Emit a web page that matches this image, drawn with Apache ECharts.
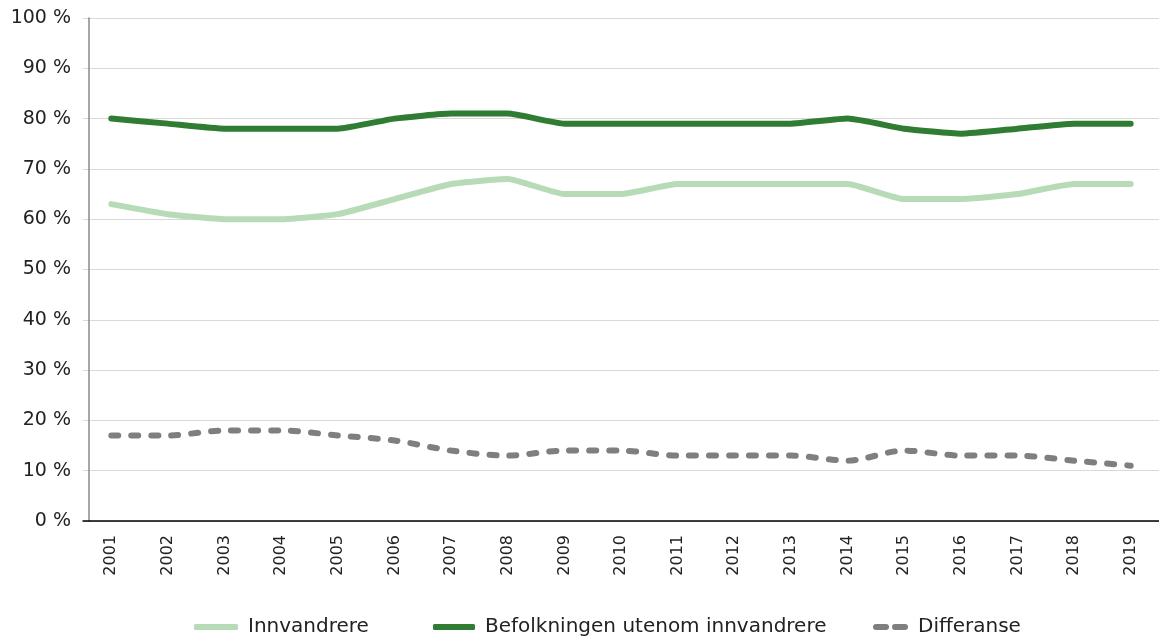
<!DOCTYPE html>
<html>
<head>
<meta charset="utf-8">
<script src="https://cdn.jsdelivr.net/npm/echarts@6/dist/echarts.min.js"></script>
<style>
  html, body { margin: 0; padding: 0; background: #fff; }
  #chart { width: 1159px; height: 638px; }
</style>
</head>
<body>
<div id="chart"></div>
<script>
// data
const years = ['2001', '2002', '2003', '2004', '2005', '2006', '2007', '2008', '2009', '2010',
  '2011', '2012', '2013', '2014', '2015', '2016', '2017', '2018', '2019']
const innvandrere = [63, 61, 60, 60, 61, 64, 67, 68, 65, 65, 67, 67, 67, 67, 64, 64, 65, 67, 67]
const befolkningen = [80, 79, 78, 78, 78, 80, 81, 81, 79, 79, 79, 79, 79, 80, 78, 77, 78, 79, 79]
const differanse = [17, 17, 18, 18, 17, 16, 14, 13, 14, 14, 13, 13, 13, 12, 14, 13, 13, 12, 11]
const seriesNames = ['Innvandrere', 'Befolkningen utenom innvandrere', 'Differanse']

const font = '"DejaVu Sans", Verdana, sans-serif'
const colors = ['#b7dbb7', '#317c33', '#7f7f7f']

// one legend per entry so the gaps match the original
function legendItem(name, left, icon, width) {
  return {
    data: [{ name: name, icon: icon }],
    left: left,
    top: 617,
    padding: 0,
    itemWidth: width,
    itemHeight: 6,
    itemGap: 0,
    textStyle: { fontFamily: font, fontSize: 20, color: '#222', padding: [0, 0, 0, 5] }
  }
}

let myChart = echarts.init(document.getElementById('chart'))
myChart.setOption({
  animation: false,
  grid: {
    left: 83,
    right: 0,
    top: 18,
    bottom: 117
  },
  legend: [
    legendItem(seriesNames[0], 194, 'roundRect', 44),
    legendItem(seriesNames[1], 433, 'roundRect', 42),
    legendItem(seriesNames[2], 873, 'path://M3,0h10a3,3 0 0 1 0,6h-10a3,3 0 0 1 0,-6z M22,0h10a3,3 0 0 1 0,6h-10a3,3 0 0 1 0,-6z', 35)
  ],
  xAxis: {
    type: 'category',
    data: years,
    boundaryGap: true,
    axisLine: { show: true, lineStyle: { color: '#000', width: 1.5 } },
    axisTick: { show: false },
    axisLabel: {
      rotate: 90,
      margin: 14,
      fontFamily: font,
      fontSize: 16,
      color: '#222'
    }
  },
  yAxis: {
    type: 'value',
    min: 0,
    max: 100,
    interval: 10,
    offset: -6,
    axisLine: { show: true, lineStyle: { color: '#888', width: 1.5 } },
    axisTick: { show: false },
    axisLabel: {
      formatter: '{value} %',
      margin: 18,
      fontFamily: font,
      fontSize: 19,
      color: '#222'
    },
    splitLine: { lineStyle: { color: '#d9d9d9', width: 1 } }
  },
  series: [
    {
      name: seriesNames[0],
      type: 'line',
      data: innvandrere,
      smooth: 0.15,
      symbol: 'none',
      lineStyle: { color: colors[0], width: 6, cap: 'round' },
      itemStyle: { color: colors[0] }
    },
    {
      name: seriesNames[1],
      type: 'line',
      data: befolkningen,
      smooth: 0.15,
      symbol: 'none',
      lineStyle: { color: colors[1], width: 6, cap: 'round' },
      itemStyle: { color: colors[1] }
    },
    {
      name: seriesNames[2],
      type: 'line',
      data: differanse,
      smooth: 0.3,
      symbol: 'none',
      lineStyle: { color: colors[2], width: 6, type: [7, 13], cap: 'round' },
      itemStyle: { color: colors[2] }
    }
  ]
})
</script>
</body>
</html>
